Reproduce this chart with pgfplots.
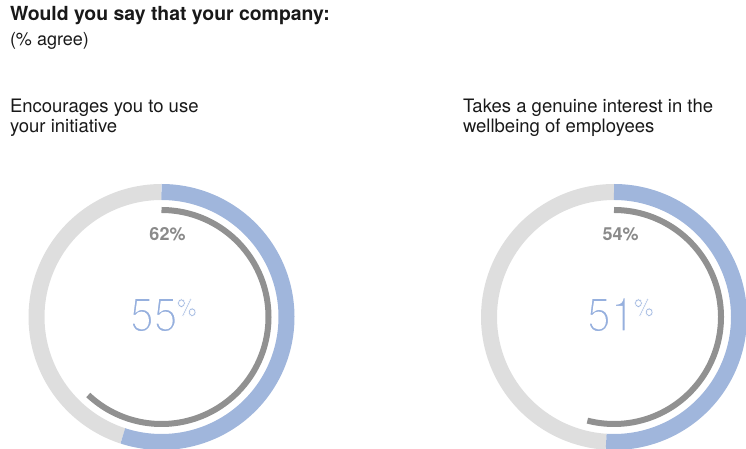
\documentclass[border=0pt]{standalone}
\usepackage{pgfplots}
\pgfplotsset{compat=1.18}
\usepackage{fontspec}
\setmainfont{TeX Gyre Heros}
\definecolor{ringblue}{RGB}{160,182,220}
\definecolor{ringgray}{RGB}{222,222,222}
\definecolor{arcgray}{RGB}{145,145,145}
\definecolor{numblue}{RGB}{150,176,222}
\definecolor{labgray}{RGB}{138,138,138}
\definecolor{txt}{RGB}{25,25,25}
% thin look: fill glyphs, then stroke their outline in white
\newcommand\thin[2]{\special{pdf:literal direct 2 Tr 1 1 1 RG #1 w}#2\special{pdf:literal direct 0 Tr}}
\newcommand\bignum[1]{\scalebox{0.88}[1]{\fontsize{48.5}{49}\selectfont\thin{2.0}{#1}\kern-0.5pt\raisebox{15.5pt}{\fontsize{25}{25}\selectfont\thin{0.6}{\%}}}}
\begin{document}
\begin{tikzpicture}
\begin{axis}[at={(0,0)}, anchor=south west, width=746pt, height=449pt, scale only axis,
  xmin=0, xmax=746, ymin=0, ymax=449, hide axis, clip=true,
  every axis plot/.append style={line cap=butt, samples=120, no marks}]
% ---- left donut: centre (161.5,132); outer 55%, inner 62%
\addplot[ringgray, line width=16pt, domain=55:100, variable=\t] ({161.5+125*sin(3.6*\t)}, {132+125*cos(3.6*\t)});
\addplot[ringblue, line width=16pt, domain=0:55, variable=\t] ({161.5+125*sin(3.6*\t)}, {132+125*cos(3.6*\t)});
\addplot[arcgray, line width=6pt, domain=0:62, variable=\t] ({161.5+107*sin(3.6*\t)}, {132+107*cos(3.6*\t)});
% ---- right donut: centre (614,132); outer 51%, inner 54%
\addplot[ringgray, line width=16pt, domain=51:100, variable=\t] ({614+125*sin(3.6*\t)}, {132+125*cos(3.6*\t)});
\addplot[ringblue, line width=16pt, domain=0:51, variable=\t] ({614+125*sin(3.6*\t)}, {132+125*cos(3.6*\t)});
\addplot[arcgray, line width=6pt, domain=0:54, variable=\t] ({614+107*sin(3.6*\t)}, {132+107*cos(3.6*\t)});
\end{axis}
\begin{scope}[every node/.style={inner sep=0pt, outer sep=0pt}]
\node[anchor=base west, txt, font=\fontsize{19.4}{22}\selectfont\bfseries] at (10pt,428pt) {Would you say that your company:};
\node[anchor=base west, txt, font=\fontsize{18}{22}\selectfont] at (10pt,403pt) {(\% agree)};
\node[anchor=base west, txt, font=\fontsize{18.5}{22}\selectfont] at (10pt,336pt) {Encourages you to use};
\node[anchor=base west, txt, font=\fontsize{18.5}{22}\selectfont] at (10pt,316pt) {your initiative};
\node[anchor=base west, txt, font=\fontsize{18.5}{22}\selectfont] at (463pt,336pt) {Takes a genuine interest in the};
\node[anchor=base west, txt, font=\fontsize{18.5}{22}\selectfont] at (463pt,316pt) {wellbeing of employees};
\node[anchor=base, labgray, font=\fontsize{18}{20}\selectfont\bfseries] at (167.5pt,208pt) {62\%};
\node[anchor=base, labgray, font=\fontsize{18}{20}\selectfont\bfseries] at (620.5pt,208pt) {54\%};
\node[anchor=base west, numblue] at (130pt,117.5pt) {\bignum{55}};
\node[anchor=base west, numblue] at (587pt,117.5pt) {\bignum{51}};
\end{scope}
\pgfresetboundingbox
\path[use as bounding box] (0,0) rectangle (746pt,449pt);
\end{tikzpicture}
\end{document}
